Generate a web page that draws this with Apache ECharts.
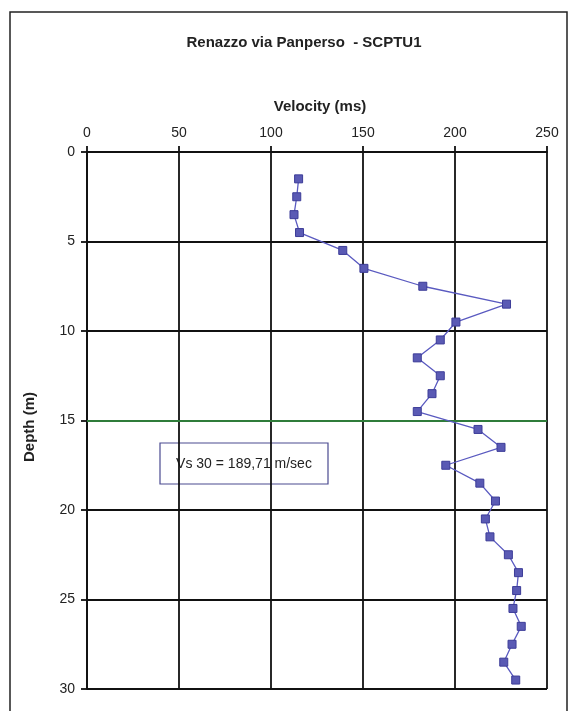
<!DOCTYPE html>
<html>
<head>
<meta charset="utf-8">
<script src="https://cdn.jsdelivr.net/npm/echarts@6/dist/echarts.min.js"></script>
<style>html,body{margin:0;padding:0;background:#fff}#c{width:571px;height:711px}</style>
</head>
<body>
<div id="c"></div>
<script>
const depths = [1.5,2.5,3.5,4.5,5.5,6.5,7.5,8.5,9.5,10.5,11.5,12.5,13.5,14.5,15.5,16.5,17.5,18.5,19.5,20.5,21.5,22.5,23.5,24.5,25.5,26.5,27.5,28.5,29.5];
const velocities = [115,114,112.5,115.5,139,150.5,182.5,228,200.5,192,179.5,192,187.5,179.5,212.5,225,195,213.5,222,216.5,219,229,234.5,233.5,231.5,236,231,226.5,233];
const xTicks = [0,50,100,150,200,250];
const depthTicks = [0,5,10,15,20,25,30];
const vs30Depth = 15;
const titleText = 'Renazzo via Panperso  - SCPTU1';
const xName = 'Velocity (ms)';
const yName = 'Depth (m)';
const noteText = 'Vs 30 = 189,71 m/sec';

const chart = echarts.init(document.getElementById('c'));
const font = 'Liberation Sans, Arial, sans-serif';
chart.setOption({
  backgroundColor: '#ffffff',
  animation: false,
  grid: {left: 87, right: 24, top: 152, bottom: 22, containLabel: false},
  xAxis: {
    type: 'value', position: 'top', min: xTicks[0], max: xTicks[xTicks.length-1], interval: 50,
    axisLine: {show: true, onZero: false, lineStyle: {color: '#111', width: 1.8}},
    axisTick: {show: true, inside: false, length: 6, lineStyle: {color: '#111', width: 1.8}},
    axisLabel: {color: '#222', fontFamily: font, fontSize: 14, margin: 12},
    splitLine: {show: true, lineStyle: {color: '#111', width: 1.8}}
  },
  yAxis: {
    type: 'value', inverse: true, min: depthTicks[0], max: depthTicks[depthTicks.length-1], interval: 5,
    axisLine: {show: true, onZero: false, lineStyle: {color: '#111', width: 1.8}},
    axisTick: {show: true, inside: false, length: 6, lineStyle: {color: '#111', width: 1.8}},
    axisLabel: {color: '#222', fontFamily: font, fontSize: 14, margin: 12},
    splitLine: {show: true, lineStyle: {color: '#111', width: 1.8}}
  },
  series: [{
    type: 'line',
    data: depths.map((d, i) => [velocities[i], d]),
    symbol: 'rect', symbolSize: 8,
    lineStyle: {color: '#5a5ac0', width: 1.3},
    itemStyle: {color: '#5a5ab4', borderColor: '#3c3c98', borderWidth: 1},
    z: 5,
    markLine: {
      silent: true, symbol: ['none','none'], label: {show: false},
      lineStyle: {color: '#3aa048', width: 1.6, type: 'solid'},
      data: [{yAxis: vs30Depth}]
    }
  }],
  graphic: [
    {type: 'rect', shape: {x: 10, y: 12, width: 557, height: 720}, style: {fill: 'none', stroke: '#222', lineWidth: 1.5}, silent: true},
    {type: 'text', x: 304, y: 43, style: {text: titleText, font: 'bold 15px ' + font, fill: '#222', align: 'center', verticalAlign: 'middle'}},
    {type: 'text', x: 320, y: 107, style: {text: xName, font: 'bold 15px ' + font, fill: '#222', align: 'center', verticalAlign: 'middle'}},
    {type: 'text', x: 30, y: 427, rotation: Math.PI/2, style: {text: yName, font: 'bold 15px ' + font, fill: '#222', align: 'center', verticalAlign: 'middle'}},
    {type: 'group', x: 160, y: 443, z: 10, children: [
      {type: 'rect', shape: {x: 0, y: 0, width: 168, height: 41}, style: {fill: '#fff', stroke: '#4a4a90', lineWidth: 1.2}},
      {type: 'text', x: 84, y: 21, style: {text: noteText, font: '14px ' + font, fill: '#222', align: 'center', verticalAlign: 'middle'}}
    ]}
  ]
});
</script>
</body>
</html>
